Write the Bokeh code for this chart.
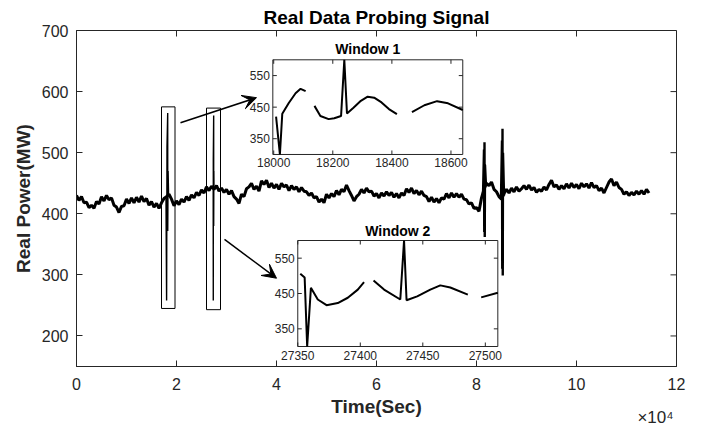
from bokeh.plotting import figure
from bokeh.models import Range1d, FixedTicker, LinearAxis, Arrow, VeeHead
from bokeh.core.properties import value
from bokeh.embed import file_html
from bokeh.resources import INLINE

# ---------------- data ----------------
TITLE = "Real Data Probing Signal"
X_LABEL = "Time(Sec)"
Y_LABEL = "Real Power(MW)"
X_EXPONENT = "×10⁴"

x_ticks = [0, 20000, 40000, 60000, 80000, 100000, 120000]
x_tick_labels = ["0", "2", "4", "6", "8", "10", "12"]
y_ticks = [200, 300, 400, 500, 600, 700]

# main signal, one reading every 500 s
main_step = 500
main_mw = [
    430, 422, 428, 418, 419, 410, 414, 409, 420, 416,
    428, 421, 430, 423, 426, 414, 411, 402, 412, 413,
    424, 417, 426, 418, 427, 419, 429, 420, 425, 414,
    420, 411, 417, 409, 418, 425, 428, 432, 424, 413,
    421, 415, 424, 419, 428, 422, 431, 426, 435, 430,
    439, 434, 444, 438, 445, 440, 446, 437, 442, 435,
    440, 432, 438, 428, 424, 417, 432, 428, 441, 444,
    450, 440, 445, 437, 454, 448, 455, 443, 450, 442,
    448, 440, 450, 444, 447, 438, 446, 440, 444, 436,
    443, 437, 436, 430, 434, 426, 428, 419, 424, 418,
    432, 426, 433, 428, 438, 431, 440, 436, 447, 438,
    430, 421, 428, 432, 440, 434, 442, 436, 437, 429,
    433, 426, 434, 429, 436, 430, 435, 427, 433, 426,
    434, 430, 441, 435, 442, 433, 438, 431, 437, 430,
    428, 420, 427, 419, 425, 418, 426, 424, 433, 426,
    434, 427, 433, 427, 432, 424, 423, 416, 418, 409,
    410, 404, 426, 440, 450, 446, 452, 440, 436, 428,
    424, 433, 440, 434, 442, 436, 444, 437, 441, 446,
    440, 447, 439, 443, 435, 440, 437, 444, 439, 448,
    455, 444, 447, 440, 446, 441, 449, 442, 450, 443,
    448, 441, 450, 444, 449, 442, 451, 443, 446, 438,
    442, 434, 443, 452, 457, 446, 452, 443, 440, 432,
    436, 430, 435, 431, 437, 432, 438, 432, 440, 434,
]
main_t = [main_step * i for i in range(len(main_mw))]

# probing spikes on the main trace
spike_t = [
    [17900, 18020, 18100, 18240, 18250, 18320, 18420],
    [27340, 27355, 27360, 27435, 27437, 27470, 27500],
    [81300, 81500, 81550, 81600, 81650, 81700, 81900],
    [84900, 85100, 85150, 85200, 85250, 85300, 85500],
]
spike_mw = [
    [425, 258, 510, 565, 372, 470, 430],
    [440, 258, 490, 561, 380, 470, 440],
    [430, 505, 370, 517, 362, 480, 445],
    [427, 520, 310, 539, 299, 500, 430],
]

# window rectangles
rect_left = [17000, 26000]
rect_right = [19700, 28800]
rect_bottom = [245, 243]
rect_top = [575, 573]

# arrows
arrow_x_start = [20800, 29600]
arrow_y_start = [549, 358]
arrow_x_end = [36000, 40000]
arrow_y_end = [590, 294.5]

# inset: Window 1
w1_title = "Window 1"
w1_xlim = [17997, 18640]
w1_ylim = [300, 600]
w1_xticks = [18000, 18200, 18400, 18600]
w1_yticks = [350, 450, 550]
w1_seg_t = [
    [18008, 18021, 18029, 18051, 18074, 18091, 18108],
    [18138, 18158, 18186, 18205, 18228, 18239, 18248, 18270, 18295, 18318, 18340, 18365, 18390, 18417],
    [18468, 18510, 18553, 18590, 18640],
]
w1_seg_mw = [
    [420, 300, 429, 463, 494, 508, 501],
    [454, 422, 412, 415, 422, 600, 430, 448, 470, 483, 480, 465, 444, 428],
    [434, 456, 469, 462, 441],
]

# inset: Window 2
w2_title = "Window 2"
w2_xlim = [27350, 27510]
w2_ylim = [300, 600]
w2_xticks = [27350, 27400, 27450, 27500]
w2_yticks = [350, 450, 550]
w2_seg_t = [
    [27352, 27355.5, 27357.5, 27360.5, 27366, 27373, 27382, 27390, 27398, 27403],
    [27410.6, 27419, 27432, 27435, 27437, 27445.5, 27456, 27464, 27472, 27486],
    [27496.7, 27510],
]
w2_seg_mw = [
    [506, 495, 300, 466, 433, 417, 423, 438, 461, 482],
    [487, 461, 433, 600, 431, 442, 461, 473, 467, 447],
    [439, 452],
]

# ---------------- layout / style ----------------
FONT = "Liberation Sans"
AX = "#262626"
FRAME_W, FRAME_H = 600, 336
EXPONENT_AT = 115800   # where the exponent text is centred along x
# inset boxes as fractions of the main frame: (left, right, bottom, top)
w1_box = (0.3272, 0.6438, 0.6310, 0.9128)
w2_box = (0.3688, 0.7022, 0.0595, 0.3750)

p = figure(width=702, height=427, output_backend="svg", toolbar_location=None,
           x_range=Range1d(0, 120000), y_range=Range1d(150, 700),
           title=TITLE, min_border_left=76, min_border_right=26,
           min_border_top=30, min_border_bottom=61)
p.title.align = "center"
p.title.text_font = FONT
p.title.text_font_size = "19px"
p.title.text_font_style = "bold"
p.title.text_color = "black"
p.title.standoff = 5
p.xgrid.visible = False
p.ygrid.visible = False
p.outline_line_color = AX
p.outline_line_width = 1
p.background_fill_color = "white"
p.border_fill_color = "white"


def style_axis(ax, ticks):
    ax.ticker = FixedTicker(ticks=ticks)
    ax.major_tick_in = 6
    ax.major_tick_out = 0
    ax.minor_tick_line_color = None
    ax.axis_line_color = AX
    ax.major_tick_line_color = AX
    ax.major_label_text_font = FONT
    ax.major_label_text_color = AX
    ax.major_label_text_font_size = "16px"


xb = p.below[0]
yl = p.left[0]
style_axis(xb, x_ticks)
style_axis(yl, y_ticks)
xb.major_label_overrides = dict(zip(x_ticks, x_tick_labels))
xb.major_label_standoff = 11
yl.major_label_standoff = 8
yl.axis_label = Y_LABEL
yl.axis_label_text_font = FONT
yl.axis_label_text_font_style = "bold"
yl.axis_label_text_font_size = "19px"
yl.axis_label_text_color = AX
yl.axis_label_standoff = 5

# second bottom axis: carries the exponent (as its only tick label) and the x label
xe = LinearAxis(ticker=FixedTicker(ticks=[EXPONENT_AT]),
                major_label_overrides={EXPONENT_AT: X_EXPONENT})
xe.axis_line_color = None
xe.major_tick_line_color = None
xe.major_tick_in = 0
xe.major_tick_out = 0
xe.minor_tick_line_color = None
xe.major_label_text_font = FONT
xe.major_label_text_font_size = "17px"
xe.major_label_text_color = AX
xe.major_label_standoff = 15
xe.axis_label = X_LABEL
xe.axis_label_text_font = FONT
xe.axis_label_text_font_style = "bold"
xe.axis_label_text_font_size = "19px"
xe.axis_label_text_color = AX
xe.axis_label_standoff = -34
p.add_layout(xe, "below")

# inner tick marks on the top and right sides of the box
x_span = p.x_range.end - p.x_range.start
y_span = p.y_range.end - p.y_range.start
tick_px = 6
tx = tick_px * x_span / FRAME_W
ty = tick_px * y_span / FRAME_H
p.segment(x0=x_ticks, y0=[p.y_range.end] * len(x_ticks), x1=x_ticks,
          y1=[p.y_range.end - ty] * len(x_ticks), line_color=AX, line_width=1)
p.segment(x0=[p.x_range.end] * len(y_ticks), y0=y_ticks,
          x1=[p.x_range.end - tx] * len(y_ticks), y1=y_ticks, line_color=AX, line_width=1)

# main trace
p.line(main_t, main_mw, line_color="black", line_width=3)
spike_widths = [1.4, 1.4, 2.4, 2.4]
for ts, ms, lw in zip(spike_t, spike_mw, spike_widths):
    p.line(ts, ms, line_color="black", line_width=lw)

# window rectangles
p.quad(left=rect_left, right=rect_right, bottom=rect_bottom, top=rect_top,
       fill_color=None, line_color="black", line_width=1)

# arrows
for xs, ys, xe_, ye in zip(arrow_x_start, arrow_y_start, arrow_x_end, arrow_y_end):
    p.add_layout(Arrow(end=VeeHead(size=14, fill_color="black", line_color="black"),
                       x_start=xs, y_start=ys, x_end=xe_, y_end=ye,
                       line_color="black", line_width=1.5))


def add_inset(name, box, xlim, ylim, xticks, yticks, title, seg_t, seg_mw, title_gap):
    fl, fr, fb, ft = box
    kx = (xlim[1] - xlim[0]) / (fr - fl)
    ky = (ylim[1] - ylim[0]) / (ft - fb)
    xr = Range1d(xlim[0] - fl * kx, xlim[1] + (1 - fr) * kx)
    yr = Range1d(ylim[0] - fb * ky, ylim[1] + (1 - ft) * ky)
    xn, yn = name + "_x", name + "_y"
    p.extra_x_ranges = {**p.extra_x_ranges, xn: xr}
    p.extra_y_ranges = {**p.extra_y_ranges, yn: yr}
    ux = kx / FRAME_W   # data units per pixel
    uy = ky / FRAME_H
    kw = dict(x_range_name=xn, y_range_name=yn)
    # box
    p.quad(left=[xlim[0]], right=[xlim[1]], bottom=[ylim[0]], top=[ylim[1]],
           fill_color="white", line_color=AX, line_width=1, **kw)
    # ticks (inside, all four sides)
    tl = 4
    nx, ny = len(xticks), len(yticks)
    p.segment(x0=xticks, y0=[ylim[0]] * nx, x1=xticks, y1=[ylim[0] + tl * uy] * nx,
              line_color=AX, line_width=1, **kw)
    p.segment(x0=xticks, y0=[ylim[1]] * nx, x1=xticks, y1=[ylim[1] - tl * uy] * nx,
              line_color=AX, line_width=1, **kw)
    p.segment(x0=[xlim[0]] * ny, y0=yticks, x1=[xlim[0] + tl * ux] * ny, y1=yticks,
              line_color=AX, line_width=1, **kw)
    p.segment(x0=[xlim[1]] * ny, y0=yticks, x1=[xlim[1] - tl * ux] * ny, y1=yticks,
              line_color=AX, line_width=1, **kw)
    # tick labels
    p.text(x=xticks, y=[ylim[0] - 4 * uy] * nx, text=[str(t) for t in xticks],
           text_align="center", text_baseline="top", text_font=value(FONT),
           text_font_size="12px", text_color=AX, **kw)
    p.text(x=[xlim[0] - 3 * ux] * ny, y=yticks, text=[str(t) for t in yticks],
           text_align="right", text_baseline="middle", text_font=value(FONT),
           text_font_size="12px", text_color=AX, **kw)
    # title
    p.text(x=[(xlim[0] + xlim[1]) / 2], y=[ylim[1] + title_gap * uy], text=[title],
           text_align="center", text_baseline="alphabetic", text_font=value(FONT),
           text_font_size="14px", text_font_style=value("bold"), text_color="black", **kw)
    # curve segments
    for ts, ms in zip(seg_t, seg_mw):
        p.line(ts, ms, line_color="black", line_width=2, **kw)


add_inset("w1", w1_box, w1_xlim, w1_ylim, w1_xticks, w1_yticks, w1_title,
          w1_seg_t, w1_seg_mw, 11)
add_inset("w2", w2_box, w2_xlim, w2_ylim, w2_xticks, w2_yticks, w2_title,
          w2_seg_t, w2_seg_mw, 10)

open("out.html", "w").write(file_html(p, INLINE))
